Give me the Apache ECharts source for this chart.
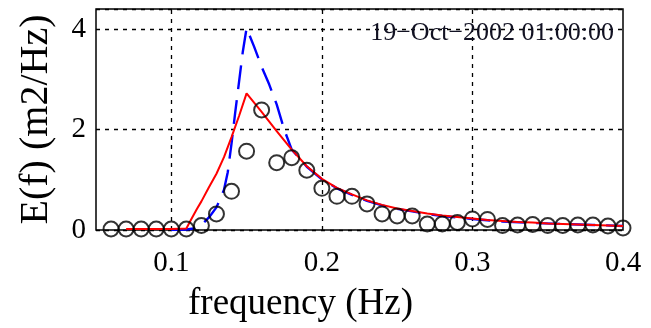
<!DOCTYPE html>
<html>
<head>
<meta charset="utf-8">
<script src="https://cdn.jsdelivr.net/npm/echarts@6/dist/echarts.min.js"></script>
<style>
  html, body { margin: 0; padding: 0; background: #fff; }
  #chart { width: 651px; height: 328px; }
</style>
</head>
<body>
<div id="chart"></div>
<script>
// observed spectrum (circles)
const freqObs = [0.06, 0.07, 0.08, 0.09, 0.10, 0.11, 0.12, 0.13, 0.14, 0.15, 0.16, 0.17,
  0.18, 0.19, 0.20, 0.21, 0.22, 0.23, 0.24, 0.25, 0.26, 0.27, 0.28, 0.29, 0.30, 0.31,
  0.32, 0.33, 0.34, 0.35, 0.36, 0.37, 0.38, 0.39, 0.40]
const energyObs = [0.02, 0.02, 0.02, 0.02, 0.02, 0.02, 0.09, 0.32, 0.77, 1.57, 2.39, 1.34,
  1.44, 1.19, 0.83, 0.67, 0.67, 0.52, 0.32, 0.28, 0.28, 0.12, 0.12, 0.15, 0.22, 0.21,
  0.09, 0.10, 0.11, 0.09, 0.09, 0.10, 0.10, 0.08, 0.04]

// red model
const freqRed = [0.07, 0.08, 0.09, 0.10, 0.11, 0.113, 0.117, 0.12, 0.125, 0.13, 0.135, 0.14,
  0.145, 0.15, 0.16, 0.17, 0.18, 0.19, 0.20, 0.21, 0.22, 0.23, 0.24, 0.25, 0.26, 0.27,
  0.28, 0.29, 0.30, 0.31, 0.32, 0.33, 0.34, 0.35, 0.36, 0.37, 0.38, 0.39, 0.40]
const energyRed = [0.02, 0.02, 0.02, 0.02, 0.03, 0.2, 0.42, 0.57, 0.85, 1.12, 1.45, 1.85,
  2.27, 2.72, 2.35, 1.97, 1.6, 1.27, 1.02, 0.84, 0.71, 0.59, 0.5, 0.43, 0.38, 0.33,
  0.29, 0.26, 0.23, 0.2, 0.18, 0.16, 0.15, 0.13, 0.12, 0.11, 0.1, 0.09, 0.08]

// blue dashed model
const freqBlue = [0.10, 0.11, 0.115, 0.12, 0.125, 0.13, 0.135, 0.1375, 0.14, 0.1425, 0.145,
  0.1475, 0.15, 0.155, 0.16, 0.165, 0.17, 0.175, 0.18, 0.19, 0.20, 0.21, 0.22, 0.23, 0.24,
  0.25, 0.26, 0.27, 0.28, 0.29, 0.30, 0.32, 0.34, 0.36, 0.38, 0.40]
const energyBlue = [0, 0.01, 0.03, 0.1, 0.25, 0.45, 0.8, 1.15, 1.72, 2.35, 2.95,
  3.55, 4.02, 3.65, 3.25, 2.9, 2.5, 2.0, 1.6, 1.26, 1.01, 0.83, 0.7, 0.58, 0.49,
  0.42, 0.37, 0.32, 0.28, 0.25, 0.22, 0.17, 0.14, 0.12, 0.1, 0.08]

const xGrid = [0.1, 0.2, 0.3]
const stamp = '19\u2212Oct\u22122002 01:00:00'

const pairs = (xs, ys) => xs.map((x, i) => [x, ys[i]])
const font = '"Liberation Serif", "DejaVu Serif", serif'
const gridStyle = { color: '#000', width: 1.3, type: [4, 5] }

const chart = echarts.init(document.getElementById('chart'), null, { renderer: 'canvas' })

chart.setOption({
  animation: false,
  backgroundColor: '#fff',
  textStyle: { fontFamily: font, color: '#000' },
  grid: {
    left: 96, right: 28, top: 9, bottom: 90,
    show: true, borderColor: '#000', borderWidth: 1.5, backgroundColor: 'transparent',
  },
  title: {
    text: stamp,
    right: 32, top: 15,
    textStyle: { fontFamily: font, fontSize: 26, fontWeight: 'normal', color: '#111122' },
  },
  xAxis: {
    type: 'value',
    min: 0.05, max: 0.4, interval: 0.05,
    name: 'frequency (Hz)',
    nameLocation: 'middle',
    nameGap: 56,
    nameTextStyle: { fontFamily: font, fontSize: 37, color: '#000', padding: [0, 118, 0, 0] },
    axisLine: { show: false },
    axisTick: { show: false },
    splitLine: { show: false },
    axisLabel: {
      fontFamily: font, fontSize: 29, color: '#000', margin: 19,
      showMinLabel: false,
      formatter: v => (Math.abs(v * 10 - Math.round(v * 10)) < 1e-6 ? v.toFixed(1) : ''),
    },
  },
  yAxis: {
    type: 'value',
    min: 0, max: 4.4, interval: 2,
    name: 'E(f) (m2/Hz)',
    nameLocation: 'middle',
    nameGap: 40,
    nameTextStyle: { fontFamily: font, fontSize: 40, color: '#000' },
    axisLine: { show: false },
    axisTick: { show: false },
    splitLine: { show: true, lineStyle: gridStyle },
    axisLabel: {
      fontFamily: font, fontSize: 29, color: '#000', margin: 10,
      showMaxLabel: false,
    },
  },
  series: [
    {
      type: 'line',
      data: pairs(freqBlue, energyBlue),
      symbol: 'none',
      lineStyle: { color: '#0000ff', width: 2.4, type: [24, 11] },
      z: 3,
      markLine: {
        silent: true,
        symbol: 'none',
        label: { show: false },
        lineStyle: gridStyle,
        data: xGrid.map(x => ({ xAxis: x })),
        z: 1,
      },
    },
    {
      type: 'line',
      data: pairs(freqRed, energyRed),
      symbol: 'none',
      lineStyle: { color: '#ff0000', width: 2 },
      z: 4,
    },
    {
      type: 'scatter',
      data: pairs(freqObs, energyObs),
      symbol: 'circle',
      symbolSize: 15,
      itemStyle: { color: 'rgba(0,0,0,0)', borderColor: '#000', borderWidth: 2 },
      z: 5,
    },
  ],
})
</script>
</body>
</html>
